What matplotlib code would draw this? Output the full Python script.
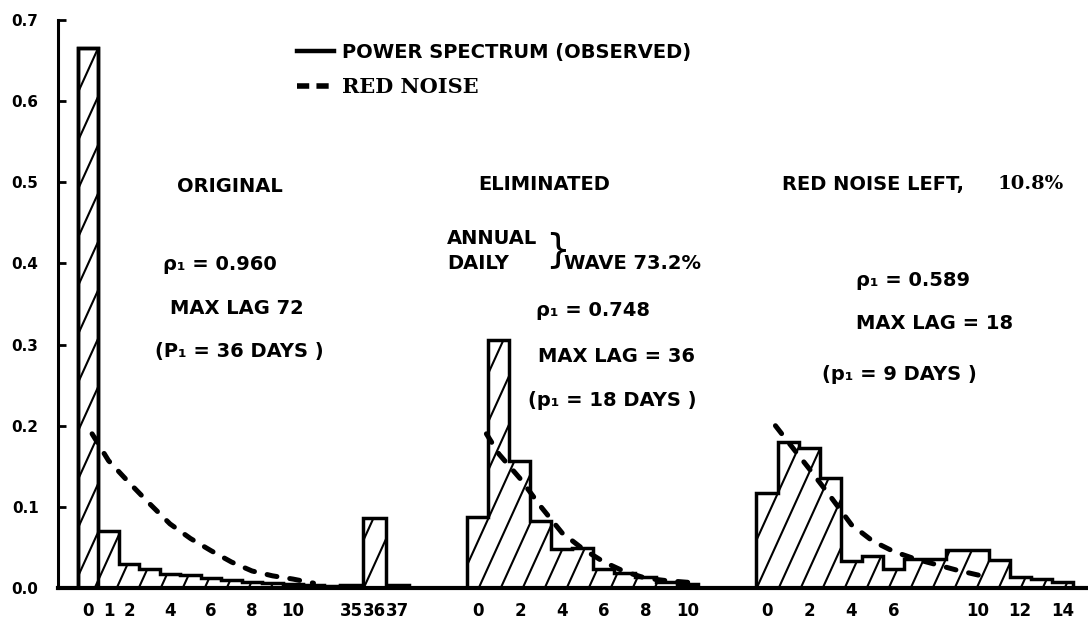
import matplotlib
matplotlib.use("Agg")
import matplotlib.pyplot as plt
from matplotlib.collections import LineCollection
from matplotlib.lines import Line2D
import numpy as np

# ---------------- data ----------------
y_ticks = [0.0, 0.1, 0.2, 0.3, 0.4, 0.5, 0.6, 0.7]
y_tick_labels = ["0.0", "0.1", "0.2", "0.3", "0.4", "0.5", "0.6", "0.7"]

# panel 1: original
p1_lags = [0, 1, 2, 3, 4, 5, 6, 7, 8, 9, 10, 11]
p1_power = [0.665, 0.070, 0.029, 0.023, 0.017, 0.016, 0.012, 0.010, 0.008, 0.006, 0.005, 0.004]
p1_tail_lags = [33, 34, 35, 36, 37]
p1_tail_power = [0.003, 0.003, 0.004, 0.086, 0.004]
p1_red_lags = [0.2, 1, 2, 3, 4, 5, 6, 7, 8, 9, 10, 11]
p1_red = [0.19, 0.157, 0.13, 0.104, 0.079, 0.061, 0.046, 0.032, 0.021, 0.015, 0.011, 0.006]
p1_ticks = [0, 1, 2, 4, 6, 8, 10]
p1_tail_ticks = [35, 36, 37]

# panel 2: annual + daily wave eliminated
p2_lags = [0, 1, 2, 3, 4, 5, 6, 7, 8, 9, 10]
p2_power = [0.088, 0.306, 0.157, 0.082, 0.048, 0.049, 0.023, 0.019, 0.013, 0.008, 0.005]
p2_red_lags = [0.4, 1, 2, 3, 4, 5, 6, 7, 8, 9, 10]
p2_red = [0.19, 0.165, 0.135, 0.10, 0.068, 0.048, 0.032, 0.020, 0.012, 0.009, 0.007]
p2_ticks = [0, 2, 4, 6, 8, 10]

# panel 3: red noise left
p3_lags = [0, 1, 2, 3, 4, 5, 6, 7, 8, 9, 10, 11, 12, 13, 14]
p3_power = [0.117, 0.180, 0.172, 0.135, 0.033, 0.040, 0.024, 0.036, 0.036, 0.047, 0.047, 0.034, 0.014, 0.011, 0.008]
p3_red_lags = [0.4, 1, 2, 3, 4, 5, 6, 7, 8, 9, 10, 10.6]
p3_red = [0.20, 0.18, 0.147, 0.113, 0.078, 0.058, 0.045, 0.036, 0.029, 0.022, 0.016, 0.012]
p3_ticks = [0, 2, 4, 6, 10, 12, 14]

# ---------------- layout ----------------
W, H = 1088, 624
AX_L, AX_R, AX_B, AX_T = 58, 1088, 588, 20   # pixel box of the value axis
rect = [AX_L / W, 1 - AX_B / H, (AX_R - AX_L) / W, (AX_B - AX_T) / H]
YMAX = 0.7
SANS = "DejaVu Sans"
SERIF = "DejaVu Serif"

fig = plt.figure(figsize=(W / 100, H / 100), dpi=100)
fig.patch.set_facecolor("white")

ax = fig.add_axes(rect)
ax.set_xlim(0, 1)
ax.set_ylim(0, YMAX)
ax.spines["top"].set_visible(False)
ax.spines["right"].set_visible(False)
ax.spines["left"].set_linewidth(2.2)
ax.spines["bottom"].set_linewidth(3.0)
ax.set_xticks([])
ax.set_yticks(y_ticks)
ax.set_yticklabels(y_tick_labels, fontsize=11, fontweight="bold", family=SANS)
ax.tick_params(axis="y", direction="in", length=6, width=2, pad=14)


def panel_axes(lag_ref, px_ref, px_per_lag):
    a = fig.add_axes(rect, facecolor="none")
    a.set_xlim(lag_ref + (AX_L - px_ref) / px_per_lag,
               lag_ref + (AX_R - px_ref) / px_per_lag)
    a.set_ylim(0, YMAX)
    for s in a.spines.values():
        s.set_visible(False)
    a.tick_params(axis="y", left=False, labelleft=False)
    a.tick_params(axis="x", length=0, pad=10)
    return a


def hatch(a, patch, phase=0.0):
    spacing, slope = 0.22, 2.2
    hin = H / 100
    segs = []
    for x0 in np.arange(-hin / slope - 1 + phase, W / 100 + 1, spacing):
        segs.append([(x0, 0), (x0 + hin / slope, hin)])
    lc = LineCollection(segs, colors="black", linewidths=1.5,
                        transform=fig.dpi_scale_trans, zorder=1)
    a.add_collection(lc, autolim=False)
    lc.set_clip_path(patch)


def edges_for(lags):
    lags = np.asarray(lags, dtype=float)
    return np.append(lags - 0.5, lags[-1] + 0.5)


def draw_hist(a, lags, power, phase=0.0):
    sp = a.stairs(power, edges_for(lags), baseline=0, fill=False,
                  color="black", lw=2.5, zorder=3)
    hatch(a, sp, phase)
    return sp


def draw_red(a, lags, vals):
    a.plot(lags, vals, color="black", lw=3.6, linestyle=(0, (2, 2.6)),
           dash_capstyle="round", zorder=4)


def set_ticks(a, ticks):
    a.set_xticks(ticks)
    a.set_xticklabels([str(t) for t in ticks], fontsize=12,
                      fontweight="bold", family=SANS)


# panel 1
a1 = panel_axes(0, 88, 20.5)
draw_hist(a1, p1_lags, p1_power)
a1.stairs(p1_power[:1], edges_for(p1_lags[:1]), baseline=0, fill=False,
          color="black", lw=2.5, zorder=3)
draw_red(a1, p1_red_lags, p1_red)
set_ticks(a1, p1_ticks)

a1t = panel_axes(36, 374, 23)
draw_hist(a1t, p1_tail_lags, p1_tail_power, phase=0.05)
set_ticks(a1t, p1_tail_ticks)

# panel 2
a2 = panel_axes(0, 478, 21)
draw_hist(a2, p2_lags, p2_power, phase=0.1)
draw_red(a2, p2_red_lags, p2_red)
set_ticks(a2, p2_ticks)

# panel 3
a3 = panel_axes(0, 767, 21.1)
draw_hist(a3, p3_lags, p3_power, phase=0.02)
draw_red(a3, p3_red_lags, p3_red)
set_ticks(a3, p3_ticks)

# ---------------- legend ----------------
handles = [Line2D([], [], color="black", lw=3.2),
           Line2D([], [], color="black", lw=4.0, linestyle=(0, (2.2, 1.3)),
                  dash_capstyle="butt")]
leg = fig.legend(handles, ["POWER SPECTRUM (OBSERVED)", "RED NOISE"],
                 loc="upper left", bbox_to_anchor=(297 / W, 1 - 43 / H),
                 frameon=False, borderpad=0, borderaxespad=0,
                 handlelength=1.9, handletextpad=0.4, labelspacing=0.75,
                 prop={"family": SANS, "weight": "bold", "size": 14})
leg.get_texts()[1].set_fontfamily(SERIF)
leg.get_texts()[1].set_fontsize(15)


# ---------------- annotations ----------------
def label(xp, yp, s, size=14, family=SANS, weight="bold"):
    fig.text(xp / W, 1 - yp / H, s, ha="left", va="center",
             fontsize=size, fontweight=weight, family=family)


label(177, 186, "ORIGINAL")
label(163, 264, "ρ₁ = 0.960")
label(170, 308, "MAX LAG 72")
label(155, 352, "(P₁ = 36 DAYS )")

label(478, 184, "ELIMINATED")
label(447, 238, "ANNUAL")
label(447, 263, "DAILY")
label(545, 250, "}", size=28, weight="normal")
label(564, 263, "WAVE 73.2%")
label(536, 310, "ρ₁ = 0.748")
label(538, 357, "MAX LAG = 36")
label(528, 401, "(p₁ = 18 DAYS )")

label(782, 184, "RED NOISE LEFT,")
label(998, 184, "10.8%", family=SERIF)
label(856, 280, "ρ₁ = 0.589")
label(856, 323, "MAX LAG = 18")
label(822, 375, "(p₁ = 9 DAYS )")

fig.savefig("out.png", dpi=100, facecolor="white")
